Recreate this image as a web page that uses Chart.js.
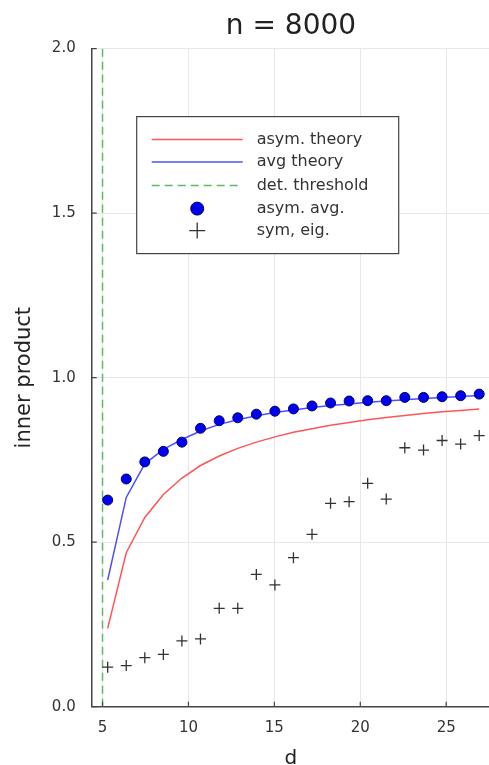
<!DOCTYPE html>
<html>
<head>
<meta charset="utf-8">
<script src="https://cdn.jsdelivr.net/npm/chart.js@4"></script>
<style>
html, body { margin: 0; padding: 0; overflow: hidden; background: #fff; }
#wrap { position: absolute; left: 0; top: 0; width: 497px; height: 765px; }
</style>
</head>
<body>
<div id="wrap"><canvas id="plot"></canvas></div>
<script>
// Sweep over d (n = 8000)
const dVals = [5.30, 6.38, 7.46, 8.54, 9.62, 10.70, 11.79, 12.87, 13.95, 15.03, 16.11,
               17.19, 18.27, 19.35, 20.43, 21.51, 22.59, 23.68, 24.76, 25.84, 26.92];

// Theory curves
const asymTheory = [0.238, 0.468, 0.575, 0.645, 0.695, 0.733, 0.762, 0.785, 0.804, 0.820, 0.834,
                    0.845, 0.855, 0.864, 0.872, 0.879, 0.885, 0.891, 0.896, 0.900, 0.905];
const avgTheory  = [0.385, 0.636, 0.738, 0.782, 0.812, 0.838, 0.858, 0.872, 0.884, 0.894, 0.902,
                    0.909, 0.915, 0.920, 0.925, 0.929, 0.933, 0.937, 0.940, 0.943, 0.946];

// Simulations
const asymAvg = [0.628, 0.692, 0.744, 0.776, 0.804, 0.846, 0.869, 0.878, 0.889, 0.898, 0.905,
                 0.914, 0.923, 0.929, 0.930, 0.930, 0.940, 0.940, 0.942, 0.945, 0.950];
const symEig  = [0.120, 0.125, 0.149, 0.159, 0.200, 0.206, 0.299, 0.299, 0.402, 0.370, 0.453,
                 0.524, 0.618, 0.623, 0.679, 0.631, 0.787, 0.780, 0.809, 0.798, 0.824];

// Detection threshold
const threshold = 5;

const xTicks = [5, 10, 15, 20, 25];
const yTicks = [0, 0.5, 1.0, 1.5, 2.0];

const FONT = 'DejaVu Sans';
const pts = arr => dVals.map((d, i) => ({ x: d, y: arr[i] }));

// small inward tick marks on both axes
const innerTicks = {
    id: 'innerTicks',
    afterDraw(chart) {
        const { ctx, chartArea: a, scales } = chart;
        ctx.save();
        ctx.strokeStyle = '#444';
        ctx.lineWidth = 1.2;
        ctx.beginPath();
        scales.y.ticks.forEach(t => {
            const p = scales.y.getPixelForValue(t.value);
            ctx.moveTo(a.left, p);
            ctx.lineTo(a.left + 5, p);
        });
        scales.x.ticks.forEach(t => {
            const p = scales.x.getPixelForValue(t.value);
            ctx.moveTo(p, a.bottom);
            ctx.lineTo(p, a.bottom - 5);
        });
        ctx.stroke();
        ctx.restore();
    }
};

// boxed legend inside the plot, styled from the datasets
const boxLegend = {
    id: 'boxLegend',
    afterDraw(chart) {
        const { ctx, chartArea: a } = chart;
        const ds = chart.data.datasets;
        const bx = a.left + 45, by = a.top + 68, bw = 262, bh = 137;
        ctx.save();
        ctx.fillStyle = '#fff';
        ctx.fillRect(bx, by, bw, bh);
        ctx.strokeStyle = '#444';
        ctx.lineWidth = 1.2;
        ctx.strokeRect(bx, by, bw, bh);

        const x0 = bx + 15, x1 = bx + 106, xm = (x0 + x1) / 2, tx = bx + 120;
        const rows = [by + 23, by + 45.5, by + 69, by + 92, by + 114];
        ctx.font = '16px "' + FONT + '"';
        ctx.textBaseline = 'middle';
        ds.forEach((d, i) => {
            const y = rows[i];
            if (d.showLine) {
                ctx.strokeStyle = d.borderColor;
                ctx.lineWidth = d.borderWidth;
                ctx.setLineDash(d.borderDash || []);
                ctx.beginPath();
                ctx.moveTo(x0, y);
                ctx.lineTo(x1, y);
                ctx.stroke();
                ctx.setLineDash([]);
            } else if (d.pointStyle === 'circle') {
                ctx.fillStyle = d.backgroundColor;
                ctx.strokeStyle = d.borderColor;
                ctx.lineWidth = 1;
                ctx.beginPath();
                ctx.arc(xm, y, 6.5, 0, Math.PI * 2);
                ctx.fill();
                ctx.stroke();
            } else {
                ctx.strokeStyle = d.borderColor;
                ctx.lineWidth = 1.3;
                ctx.beginPath();
                ctx.moveTo(xm - 8, y); ctx.lineTo(xm + 8, y);
                ctx.moveTo(xm, y - 8); ctx.lineTo(xm, y + 8);
                ctx.stroke();
            }
            ctx.fillStyle = '#333';
            ctx.fillText(d.label, tx, y);
        });
        ctx.restore();
    }
};

const chart = new Chart(document.getElementById('plot'), {
    type: 'scatter',
    data: {
        datasets: [
            {
                label: 'asym. theory',
                data: pts(asymTheory),
                showLine: true,
                borderColor: '#ff5555',
                borderWidth: 1.5,
                pointRadius: 0,
                order: 5,
            },
            {
                label: 'avg theory',
                data: pts(avgTheory),
                showLine: true,
                borderColor: '#4f4fff',
                borderWidth: 1.5,
                pointRadius: 0,
                order: 4,
            },
            {
                label: 'det. threshold',
                data: [{ x: threshold, y: yTicks[0] }, { x: threshold, y: yTicks[yTicks.length - 1] }],
                showLine: true,
                borderColor: '#62b862',
                borderWidth: 1.5,
                borderDash: [8, 5],
                pointRadius: 0,
                order: 3,
            },
            {
                label: 'asym. avg.',
                data: pts(asymAvg),
                showLine: false,
                pointStyle: 'circle',
                pointRadius: 5,
                backgroundColor: '#0000ee',
                borderColor: '#000070',
                borderWidth: 1,
                order: 1,
            },
            {
                label: 'sym, eig.',
                data: pts(symEig),
                showLine: false,
                pointStyle: 'cross',
                pointRadius: 5.5,
                borderColor: '#333',
                borderWidth: 1.3,
                order: 2,
            },
        ]
    },
    options: {
        responsive: true,
        maintainAspectRatio: false,
        animation: false,
        events: [],
        layout: { padding: 0 },
        plugins: {
            legend: { display: false },
            tooltip: { enabled: false },
            title: {
                display: true,
                text: 'n = 8000',
                fullSize: false,
                color: '#222',
                font: { family: FONT, size: 28, weight: 'normal', lineHeight: 1.2 },
                padding: { top: 10, bottom: 5 },
            },
        },
        scales: {
            x: {
                type: 'linear',
                min: 4.37,
                max: 27.56,
                afterBuildTicks: s => { s.ticks = xTicks.map(v => ({ value: v })); },
                afterFit: s => { s.height = 58.3; },
                grid: { color: '#e8e8e8', drawTicks: false },
                border: { color: '#444', width: 1.5 },
                ticks: {
                    color: '#333',
                    padding: 12,
                    font: { family: FONT, size: 15 },
                    callback: v => String(v),
                },
                title: {
                    display: true,
                    text: 'd',
                    color: '#222',
                    font: { family: FONT, size: 20, lineHeight: 1.2 },
                    padding: { top: 0, bottom: -6 },
                },
            },
            y: {
                type: 'linear',
                min: 0,
                max: 2,
                afterBuildTicks: s => { s.ticks = yTicks.map(v => ({ value: v })); },
                afterFit: s => { s.width = 91.7; },
                grid: { color: '#e8e8e8', drawTicks: false },
                border: { color: '#444', width: 1.5 },
                ticks: {
                    color: '#333',
                    padding: 16,
                    font: { family: FONT, size: 15 },
                    callback: v => Number(v).toFixed(1),
                },
                title: {
                    display: true,
                    text: 'inner product',
                    color: '#222',
                    font: { family: FONT, size: 21, lineHeight: 1.2 },
                    padding: { top: 12, bottom: 0 },
                },
            },
        },
    },
    plugins: [innerTicks, boxLegend],
});
</script>
</body>
</html>
